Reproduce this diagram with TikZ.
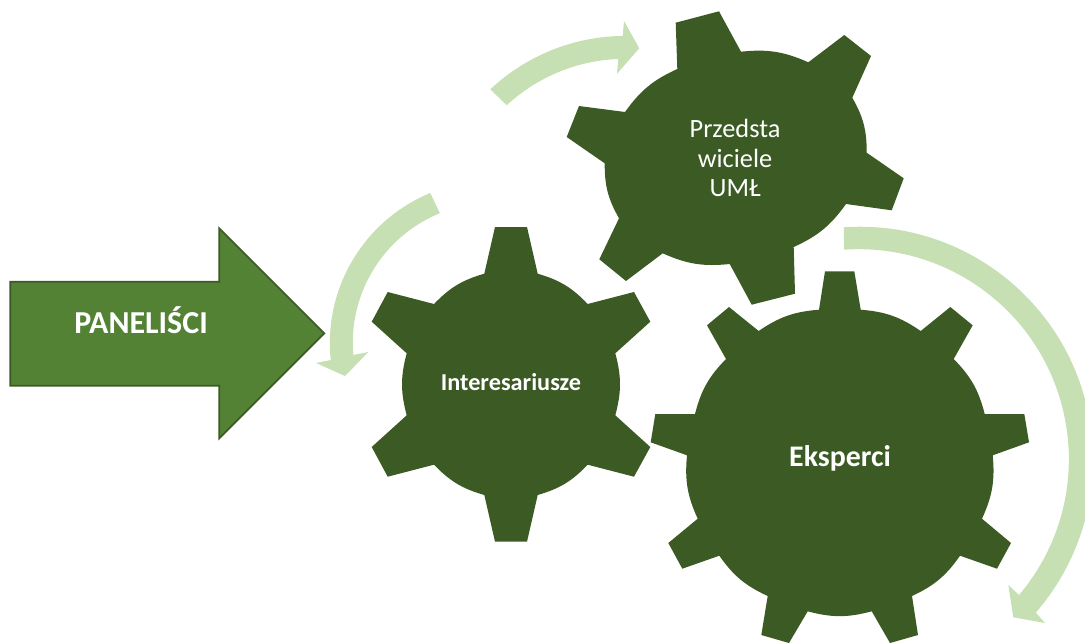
\documentclass[tikz,border=0pt]{standalone}
\usepackage{fontspec}
\setmainfont{Carlito}
\definecolor{gearGreen}{HTML}{3C5A24}
\definecolor{sweepGreen}{HTML}{C6E0B4}
\definecolor{panelFill}{HTML}{548235}
\definecolor{panelEdge}{HTML}{3C5A24}
\tikzset{
    gear/.style={fill=gearGreen, draw=none},
    sweep/.style={fill=sweepGreen, draw=none},
    rim/.style={bend left=15},
    gearlabel/.style={text=white, inner sep=0pt},
}

\begin{document}
\begin{tikzpicture}[x=0.02cm, y=-0.02cm]
    \useasboundingbox (0,0) rectangle (1085,643);
    \clip (0,0) rectangle (1085,643);

    % koła zębate
    \fill[gear] (677.3,69) -- (675.7,22.7) -- (719,11.3) -- (741,51.7) to[rim] (808.3,62.3)
        -- (844.3,35) -- (871,56) -- (852.3,97.7) to[rim] (866.7,152.7)
        -- (903.7,178.3) -- (891.7,210.3) -- (846,204) to[rim] (793.7,247)
        -- (795,293.7) -- (751.7,304.7) -- (729.7,264) to[rim] (662.7,253.3)
        -- (626,281) -- (599.3,259.3) -- (619,218.3) to[rim] (604.7,163.3)
        -- (566.7,137) -- (579,106) -- (625,112) to[rim] (677.3,69) -- cycle;
    \fill[gear] (484.3,273.7) -- (495,227) -- (527,227) -- (537.7,273.7) to[rim] (587.7,304)
        -- (634,292) -- (650.3,321.7) -- (615.3,353.3) to[rim] (615.3,415.3)
        -- (650.3,447) -- (634,476.7) -- (587.7,464.7) to[rim] (537.7,495)
        -- (527,541.7) -- (495,541.7) -- (484.3,495) to[rim] (434,464.7)
        -- (387.7,476.7) -- (371.7,447) -- (406.7,415.3) to[rim] (406.7,353.3)
        -- (371.7,321.7) -- (387.7,292) -- (434,304) to[rim] (484.3,273.7) -- cycle;
    \fill[gear] (819,309.7) -- (825,271.3) -- (854.3,271.3) -- (860.7,309.7) to[rim] (920.7,331)
        -- (950.3,307) -- (972.7,325.3) -- (953.7,359) to[rim] (984.7,414)
        -- (1024.3,414) -- (1029,442.3) -- (992.7,455.3) to[rim] (982,518.7)
        -- (1011,543) -- (997,568.7) -- (960,555.7) to[rim] (912,596)
        -- (918,635) -- (890,643) -- (871.7,611.3) to[rim] (807.7,611.3)
        -- (789,643) -- (761.3,635) -- (767.7,596) to[rim] (719.3,555.7)
        -- (682.3,568.7) -- (668.3,543) -- (697.7,518.7) to[rim] (687,455.3)
        -- (650.7,442.3) -- (655.3,414) -- (695,414) to[rim] (726,359)
        -- (707,325.3) -- (729,307) -- (758.7,331) to[rim] (819,309.7) -- cycle;

    % strzałki łukowe
    \fill[sweep] (490.3,89.3) arc[start angle=226.8, end angle=269.3, radius=197]
        -- (624,21) -- (639.3,48.3) -- (617,73.7) -- (618.3,59)
        arc[start angle=267.8, end angle=227.2, radius=174] -- cycle;
    \fill[sweep] (430.3,193) arc[start angle=247.6, end angle=174, radius=162.3]
        -- (316,363) -- (345,376) -- (368.3,352) -- (353.3,355)
        arc[start angle=175, end angle=247.8, radius=140] -- cycle;
    \fill[sweep] (843.7,227.3) arc[start angle=-94, end angle=41, radius=233]
        -- (1045,623) -- (1013.3,617.3) -- (1008.3,585) -- (1019,595)
        arc[start angle=40.3, end angle=-94, radius=210] -- cycle;

    % strzałka
    \draw[fill=panelFill, draw=panelEdge, line width=1pt] (10.3,281.7) -- (219.3,281.7) -- (219.3,228.3)
        -- (324.3,333.3) -- (219.3,438.3) -- (219.3,385.7) -- (10.3,385.7) -- cycle;

    \node[gearlabel, anchor=base, font=\fontsize{18.2}{22}\selectfont\bfseries] (paneli) at (141,333.3) {PANELIŚCI};
    \node[gearlabel, anchor=base, font=\fontsize{13.8}{16}\selectfont\bfseries] (inter) at (511,390.7) {Interesariusze};
    \node[gearlabel, anchor=base, font=\fontsize{17}{20}\selectfont\bfseries] (eksperci) at (840,466) {Eksperci};
    \node[gearlabel, align=center, font=\fontsize{15}{16.9}\selectfont] (przedst) at (735,158) {Przedsta\\wiciele\\UMŁ};
\end{tikzpicture}
\end{document}
